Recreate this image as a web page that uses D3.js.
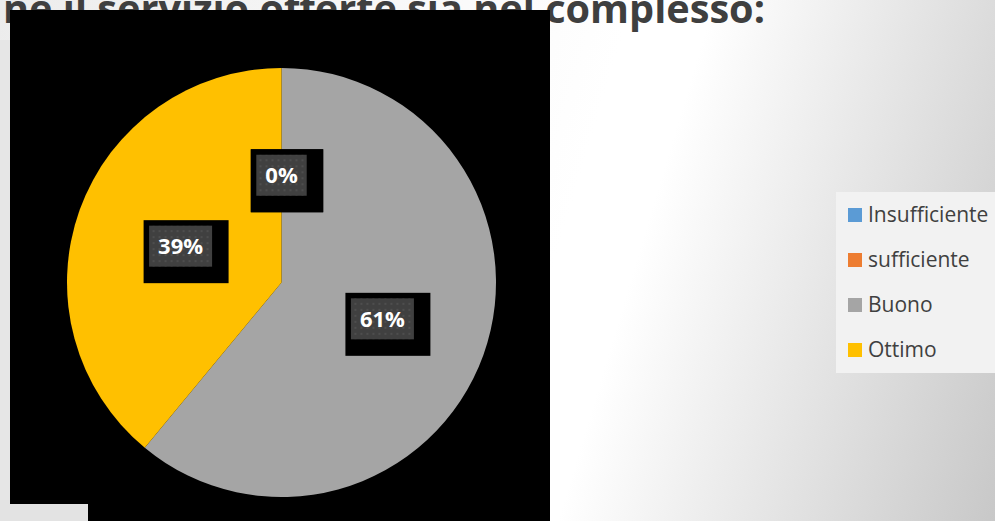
<!DOCTYPE html>
<html>
<head>
<meta charset="utf-8">
<script src="https://cdn.jsdelivr.net/npm/d3@7"></script>
<style>
  html, body { margin: 0; padding: 0; overflow: hidden; background: #fff; }
  svg { display: block; }
</style>
</head>
<body>
<svg id="chart" width="995" height="521"></svg>
<script>
// Survey answers: overall rating of the service
const titleText = "ne il servizio offerte sia nel complesso:";
const categories = ["Insufficiente", "sufficiente", "Buono", "Ottimo"];
const values = [0, 0, 61, 39];
const palette = ["#5b9bd5", "#ed7d31", "#a5a5a5", "#ffc000"];

const W = 995, H = 521;
const svg = d3.select("#chart");
const defs = svg.append("defs");

// Slide background: soft diagonal light-to-gray gradient
const bg = defs.append("linearGradient")
  .attr("id", "bgGrad")
  .attr("gradientUnits", "userSpaceOnUse")
  .attr("x1", 0).attr("y1", 0).attr("x2", 1057).attr("y2", 317);
bg.append("stop").attr("offset", 0).attr("stop-color", "#ececec");
bg.append("stop").attr("offset", 0.55).attr("stop-color", "#ffffff");
bg.append("stop").attr("offset", 0.62).attr("stop-color", "#ffffff");
bg.append("stop").attr("offset", 1).attr("stop-color", "#c8c8c8");

// Dotted fill for the data-label plates
const dots = defs.append("pattern")
  .attr("id", "dots")
  .attr("patternUnits", "userSpaceOnUse")
  .attr("width", 6).attr("height", 6);
dots.append("rect").attr("width", 6).attr("height", 6).attr("fill", "#404040");
dots.append("rect").attr("x", 2).attr("y", 2).attr("width", 2).attr("height", 2).attr("fill", "#4e4e4e");

svg.append("rect").attr("width", W).attr("height", H).attr("fill", "url(#bgGrad)");
svg.append("rect").attr("x", 0).attr("y", 40).attr("width", 10).attr("height", H - 40).attr("fill", "#e6e6e6");
svg.append("rect").attr("x", 0).attr("y", 500).attr("width", 88).attr("height", 21).attr("fill", "#e3e3e3");

// Slide title (runs off the left edge)
svg.append("text")
  .attr("x", 3).attr("y", 23)
  .attr("textLength", 762)
  .attr("lengthAdjust", "spacingAndGlyphs")
  .attr("font-family", "'Open Sans', sans-serif")
  .attr("font-weight", 700)
  .attr("font-size", 40)
  .attr("fill", "#3f3f3f")
  .text(titleText);

// Black chart panel
svg.append("path")
  .attr("d", "M10,10H550V521H88V504H10Z")
  .attr("fill", "#000");

// Pie
const cx = 281.5, cy = 282.5, R = 214.5;
const color = d3.scaleOrdinal().domain(categories).range(palette);
const pie = d3.pie().sort(null).value(d => d.value);
const data = categories.map((c, i) => ({ name: c, value: values[i] }));
const arcs = pie(data);
const arc = d3.arc().innerRadius(0).outerRadius(R);

const g = svg.append("g").attr("transform", `translate(${cx},${cy})`);
g.selectAll("path.slice")
  .data(arcs)
  .join("path")
  .attr("class", "slice")
  .attr("d", arc)
  .attr("fill", d => color(d.data.name));

// Data labels: dotted plate with a black backing offset down-right
const total = d3.sum(values);
const fmt = v => Math.round(v / total * 100) + "%";
const labels = g.selectAll("g.lbl")
  .data(arcs)
  .join("g")
  .attr("class", "lbl")
  .attr("transform", d => `translate(${arc.centroid(d)})`);

labels.each(function(d) {
  const sel = d3.select(this);
  const back = sel.append("rect").attr("fill", "#000");
  const plate = sel.append("rect").attr("fill", "url(#dots)");
  const t = sel.append("text")
    .attr("text-anchor", "middle")
    .attr("dy", "0.36em")
    .attr("font-family", "'Open Sans', sans-serif")
    .attr("font-weight", 700)
    .attr("font-size", 22)
    .attr("fill", "#ffffff")
    .text(fmt(d.data.value));
  const tw = t.node().getComputedTextLength();
  const pw = tw + 18, ph = 41;
  plate.attr("x", -pw / 2).attr("y", -ph / 2).attr("width", pw).attr("height", ph);
  back.attr("x", -pw / 2 - 5.5).attr("y", -ph / 2 - 5.5).attr("width", pw + 22).attr("height", ph + 22);
});

// Legend
svg.append("rect")
  .attr("x", 836).attr("y", 192).attr("width", W - 836).attr("height", 181)
  .attr("fill", "#f2f2f2");
const ly = d3.scalePoint().domain(categories).range([222, 357]);
const leg = svg.selectAll("g.leg")
  .data(categories)
  .join("g")
  .attr("class", "leg")
  .attr("transform", d => `translate(848,${ly(d)})`);
leg.append("rect")
  .attr("x", 0).attr("y", -14).attr("width", 14).attr("height", 14)
  .attr("fill", d => color(d));
leg.append("text")
  .attr("x", 20).attr("y", 0)
  .attr("font-family", "'Open Sans', sans-serif")
  .attr("font-size", 21)
  .attr("fill", "#404040")
  .text(d => d);
</script>
</body>
</html>
